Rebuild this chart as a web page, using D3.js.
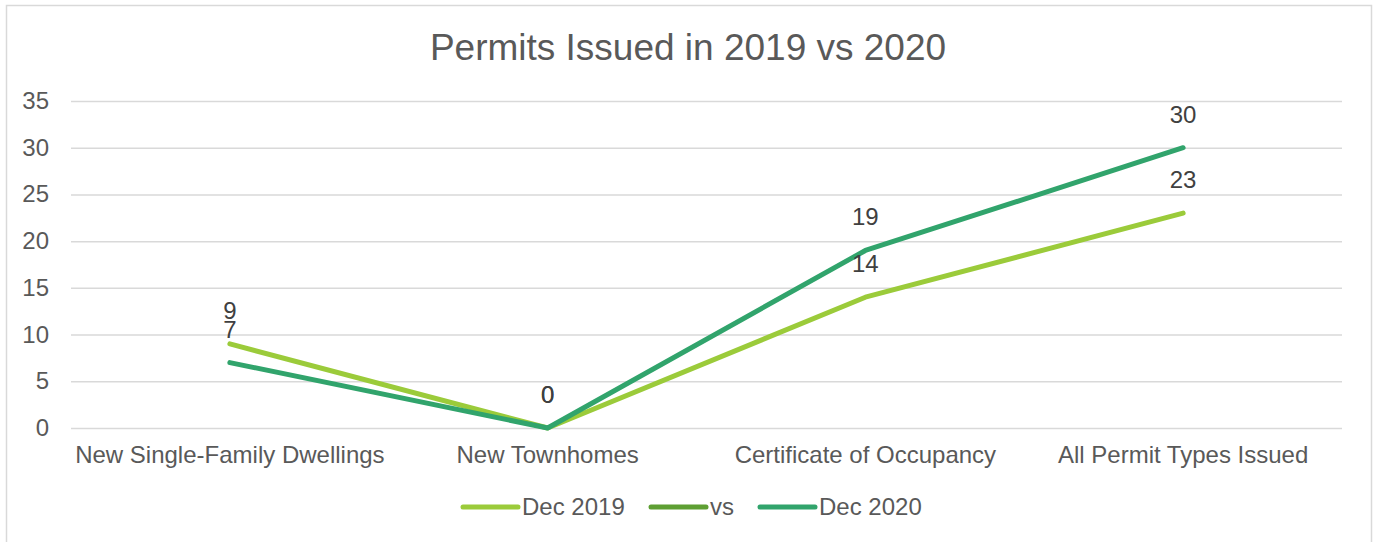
<!DOCTYPE html>
<html><head><meta charset="utf-8">
<script src="https://cdn.jsdelivr.net/npm/d3@7"></script>
<style>body{margin:0;background:#fff;font-family:Arial,"Liberation Sans",sans-serif;}</style>
</head><body><svg id="c" width="1377" height="542"></svg>
<script>
const categories = ["New Single-Family Dwellings","New Townhomes","Certificate of Occupancy","All Permit Types Issued"];
const dec2019 = [9,0,14,23];
const vs = [null,null,null,null];
const dec2020 = [7,0,19,30];
const yTicks = [0,5,10,15,20,25,30,35];
const seriesNames = ["Dec 2019","vs","Dec 2020"];
const colors = ["#9BCB3A","#5E9F33","#31A46C"];

const svg = d3.select("#c");
svg.append("rect").attr("x",6.5).attr("y",5.5).attr("width",1365).attr("height",545)
  .attr("fill","#fff").attr("stroke","#d9d9d9").attr("stroke-width",1.5);

const x = d3.scalePoint().domain(categories).range([71,1342]).padding(0.5);
const y = d3.scaleLinear().domain([0,35]).range([428,101]);

svg.append("text").attr("x",688).attr("y",60).attr("text-anchor","middle")
  .attr("font-size",37).attr("fill","#595959").text("Permits Issued in 2019 vs 2020");

const grid = svg.append("g").attr("transform","translate(71,0)")
  .call(d3.axisLeft(y).tickValues(yTicks).tickSize(-1271).tickFormat(""));
grid.select(".domain").remove();
grid.selectAll("line").attr("stroke","#d9d9d9").attr("stroke-width",1.5);

yTicks.forEach(t=>{
  svg.append("text").attr("x",49).attr("y",y(t)+8).attr("text-anchor","end")
    .attr("font-size",24).attr("fill","#595959").text(t);
});
categories.forEach(c=>{
  svg.append("text").attr("x",x(c)).attr("y",463).attr("text-anchor","middle")
    .attr("font-size",24).attr("fill","#595959").text(c);
});

const line = d3.line().defined(d=>d.v!=null).x(d=>x(d.c)).y(d=>y(d.v));
const series = [dec2019, vs, dec2020];
series.forEach((s,i)=>{
  const pts = s.map((v,j)=>({c:categories[j],v}));
  svg.append("path").datum(pts).attr("d",line).attr("fill","none")
    .attr("stroke",colors[i]).attr("stroke-width",5).attr("stroke-linecap","round").attr("stroke-linejoin","round");
});
series.forEach((s,i)=>{
  s.forEach((v,j)=>{
    if(v==null) return;
    svg.append("text").attr("x",x(categories[j])).attr("y",y(v)-25).attr("text-anchor","middle")
      .attr("font-size",24).attr("fill","#404040").text(v);
  });
});

const lx = [463,651,760];
seriesNames.forEach((n,i)=>{
  svg.append("line").attr("x1",lx[i]).attr("x2",lx[i]+55).attr("y1",507).attr("y2",507)
    .attr("stroke",colors[i]).attr("stroke-width",5).attr("stroke-linecap","round");
  svg.append("text").attr("x",lx[i]+59).attr("y",515).attr("font-size",24).attr("fill","#595959").text(n);
});
</script></body></html>
